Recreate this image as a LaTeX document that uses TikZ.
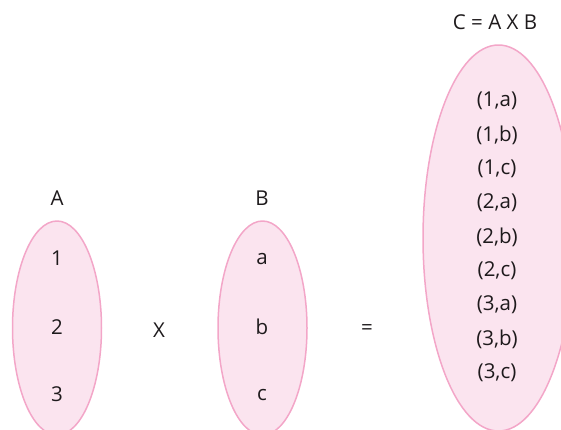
\documentclass[tikz,border=0pt]{standalone}
\usepackage{fontspec}
\setmainfont{Open Sans}
\usetikzlibrary{shapes.geometric}
\definecolor{setfill}{RGB}{251,228,239}
\definecolor{setline}{RGB}{243,166,200}
\definecolor{ink}{RGB}{30,26,28}
\tikzset{
  setshape/.style={ellipse, draw=setline, fill=setfill, line width=1.5pt, inner sep=0pt},
  lbl/.style={text=ink, font=\fontsize{20.5}{24}\selectfont, inner sep=0pt, anchor=center}
}
\begin{document}
\begin{tikzpicture}[x=1pt,y=-1pt]
\useasboundingbox (0,0) rectangle (561,429);
\begin{scope}
\clip (0,0) rectangle (561,429);
\node[setshape, minimum width=89pt, minimum height=214pt] (SA) at (57,328) {};
\node[setshape, minimum width=89pt, minimum height=214pt] (SB) at (262.5,328) {};
\node[setshape, minimum width=151pt, minimum height=386pt] (SC) at (498.5,238) {};
\end{scope}
\node[lbl] (tA) at (57,198) {A};
\node[lbl] (tB) at (262,198) {B};
\node[lbl] (tC) at (495,22) {C = A X B};
\node[lbl] (a1) at (57,258) {1};
\node[lbl] (a2) at (57,327) {2};
\node[lbl] (a3) at (57,394) {3};
\node[lbl] (b1) at (262,259) {a};
\node[lbl] (b2) at (262,327) {b};
\node[lbl] (b3) at (262,395) {c};
\node[lbl] (op1) at (159,330) {X};
\node[lbl] (op2) at (367,330) {=};
\foreach \t [count=\i] in {(1,a),(1,b),(1,c),(2,a),(2,b),(2,c),(3,a),(3,b),(3,c)} {
  \node[lbl] (p\i) at (497,{101+34*(\i-1)}) {\t};
}
\end{tikzpicture}
\end{document}
